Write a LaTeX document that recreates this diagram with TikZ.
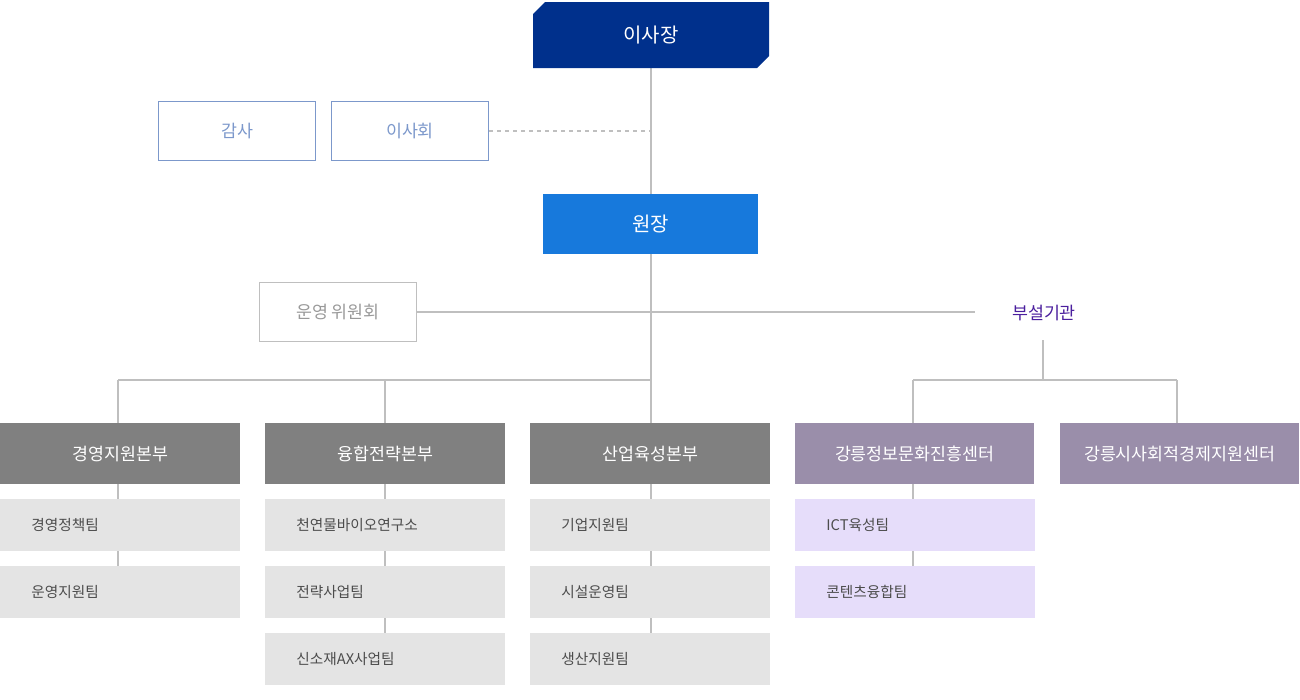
\documentclass[tikz,border=0pt]{standalone}
\usepackage{fontspec}
\newfontfamily\kr{Noto Sans CJK KR}
\begin{document}
\begin{tikzpicture}[x=0.75pt,y=-0.75pt,
  ln/.style={draw=black!25,line width=0.8pt},
  hd/.style={fill=#1,text=white,minimum width=240*0.75pt,minimum height=61*0.75pt,inner sep=0,font=\kr\fontsize{13}{15}\selectfont,anchor=north west},
  sb/.style={fill=#1,text=black!70,minimum width=240*0.75pt,minimum height=52*0.75pt,inner sep=0,anchor=north west,font=\kr\fontsize{11}{13}\selectfont},
  sbt/.style={anchor=west,text=black!70,font=\kr\fontsize{11}{13}\selectfont},
  ob/.style={draw=#1,line width=1.2pt,text=#1,minimum width=157*0.75pt,minimum height=59*0.75pt,inner sep=0,font=\kr\fontsize{13}{15}\selectfont}]
\definecolor{navy}{HTML}{00308C}
\definecolor{bl}{HTML}{1779DC}
\definecolor{ob1}{HTML}{7C98CB}
\definecolor{hg}{HTML}{808080}
\definecolor{hp}{HTML}{9A8EAA}
\definecolor{sg}{HTML}{E4E4E4}
\definecolor{sp}{HTML}{E6DDFA}
\definecolor{pu}{HTML}{4B1F9E}
\useasboundingbox (0,0) rectangle (1300,700);
% connectors
\coordinate (t1) at (651,131);
\coordinate (j1) at (651,312);
\coordinate (j2) at (651,380);
\coordinate (ja) at (118,380);
\coordinate (jb) at (385,380);
\coordinate (jr) at (1043,380);
\coordinate (jrl) at (913,380);
\coordinate (jrr) at (1177,380);
\coordinate (bt) at (1043,340);
\draw[ln] (651,68) -- (651,423);
\draw[ln,dashed] (489,131) -- (t1);
\draw[ln] (417,312) -- (975,312);
\draw[ln] (ja) -- (j2);
\draw[ln] (ja) -- (118,423);
\draw[ln] (jb) -- (385,423);
\draw[ln] (bt) -- (jr);
\draw[ln] (jrl) -- (jrr);
\draw[ln] (jrl) -- (913,423);
\draw[ln] (jrr) -- (1177,423);
\draw[ln] (118,484) -- (118,617);
\draw[ln] (385,484) -- (385,685);
\draw[ln] (651,484) -- (651,685);
\draw[ln] (913,484) -- (913,617);
% top
\fill[navy] (545,2) -- (769,2) -- (769,56) -- (757,68) -- (533,68) -- (533,14) -- cycle;
\node[text=white,font=\kr\fontsize{15}{17}\selectfont] (ceo) at (651,35) {이사장};
\node[ob=ob1] (gs) at (237,131) {감사};
\node[ob=ob1] (bd) at (410,131) {이사회};
\node[fill=bl,text=white,minimum width=215*0.75pt,minimum height=60*0.75pt,inner sep=0,font=\kr\fontsize{15}{17}\selectfont] (dir) at (650.5,224) {원장};
\node[ob=black!25,text=black!40] (op) at (338,312) {운영 위원회};
\node[fill=white,text=pu,font=\kr\fontsize{13}{15}\selectfont,inner sep=4pt] (bs) at (1044,313) {부설기관};
% headers
\node[hd=hg] (h1) at (0,423) {경영지원본부};
\node[hd=hg] (h2) at (265,423) {융합전략본부};
\node[hd=hg] (h3) at (530,423) {산업육성본부};
\node[hd=hp,minimum width=239*0.75pt] (h4) at (795,423) {강릉정보문화진흥센터};
\node[hd=hp,minimum width=239*0.75pt] (h5) at (1060,423) {강릉시사회적경제지원센터};
% sub boxes
\foreach \n/\x/\y/\c/\t in {a1/0/499/sg/경영정책팀, a2/0/566/sg/운영지원팀,
  b1/265/499/sg/천연물바이오연구소, b2/265/566/sg/전략사업팀, b3/265/633/sg/신소재AX사업팀,
  c1/530/499/sg/기업지원팀, c2/530/566/sg/시설운영팀, c3/530/633/sg/생산지원팀,
  d1/795/499/sp/ICT육성팀, d2/795/566/sp/콘텐츠융합팀}{
  \node[sb=\c] (\n) at (\x,\y) {};
  \node[sbt] (\n t) at ([xshift=20pt]\n.west) {\t};
}
\end{tikzpicture}
\end{document}
